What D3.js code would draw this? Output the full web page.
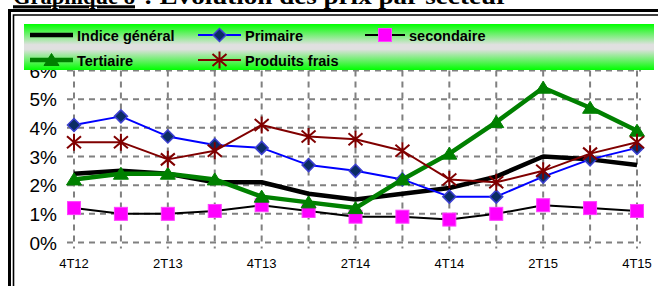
<!DOCTYPE html>
<html lang="fr">
<head>
<meta charset="utf-8">
<title>Evolution des prix par secteur</title>
<script src="https://cdn.jsdelivr.net/npm/d3@7"></script>
<style>
  body { margin: 0; background: #fff; }
  text { font-family: "Liberation Sans", Arial, sans-serif; }
</style>
</head>
<body>
<script>
var width = 658, height = 286;

// data
var quarters = ["4T12","1T13","2T13","3T13","4T13","1T14","2T14","3T14","4T14","1T15","2T15","3T15","4T15"];
var tickQuarters = ["4T12","2T13","4T13","2T14","4T14","2T15","4T15"];
var yTicks = [0, 1, 2, 3, 4, 5, 6];
var indiceGeneral = [2.4, 2.5, 2.4, 2.1, 2.1, 1.7, 1.5, 1.7, 1.9, 2.3, 3.0, 2.9, 2.7];
var primaire      = [4.1, 4.4, 3.7, 3.4, 3.3, 2.7, 2.5, 2.2, 1.6, 1.6, 2.3, 2.9, 3.3];
var secondaire    = [1.2, 1.0, 1.0, 1.1, 1.3, 1.1, 0.9, 0.9, 0.8, 1.0, 1.3, 1.2, 1.1];
var tertiaire     = [2.2, 2.4, 2.4, 2.2, 1.6, 1.4, 1.2, 2.2, 3.1, 4.2, 5.4, 4.7, 3.9];
var produitsFrais = [3.5, 3.5, 2.9, 3.2, 4.1, 3.7, 3.6, 3.2, 2.2, 2.1, 2.5, 3.1, 3.5];

var series = [
  {name: "Indice général", values: indiceGeneral, color: "#000", width: 4.5, marker: null},
  {name: "Primaire", values: primaire, color: "#0000ff", width: 2, marker: "diamond"},
  {name: "secondaire", values: secondaire, color: "#000", width: 2, marker: "square"},
  {name: "Tertiaire", values: tertiaire, color: "#008000", width: 4.5, marker: "triangle"},
  {name: "Produits frais", values: produitsFrais, color: "#800000", width: 2, marker: "star"}
];

var svg = d3.select("body").append("svg")
    .attr("width", width)
    .attr("height", height);

var x = d3.scalePoint().domain(quarters).range([74, 637]);
var y = d3.scaleLinear().domain([0, 6]).range([242.5, 70.5]);

// title (cut at top)
var title = svg.append("text")
    .attr("y", 4)
    .style("font-family", "'Liberation Serif', 'Times New Roman', serif")
    .style("font-weight", "bold")
    .style("font-size", "24px");
title.append("tspan").attr("x", 13).attr("text-decoration", "underline")
    .attr("textLength", 122).attr("lengthAdjust", "spacingAndGlyphs")
    .text("Graphique 8");
title.append("tspan").attr("x", 137)
    .attr("textLength", 371).attr("lengthAdjust", "spacingAndGlyphs")
    .text(" : Evolution des prix par secteur");
svg.append("line").attr("x1", 13).attr("x2", 135).attr("y1", 6).attr("y2", 6)
    .attr("stroke", "#000").attr("stroke-width", 1.5);

// double frame
svg.append("path").attr("d", "M9.5,290 V10.5 H670")
    .attr("fill", "none").attr("stroke", "#000").attr("stroke-width", 3);
svg.append("path").attr("d", "M13.5,290 V15 H670")
    .attr("fill", "none").attr("stroke", "#000").attr("stroke-width", 1.6);

// gridlines
var grid = svg.append("g").attr("stroke", "#808080").attr("stroke-width", 2)
    .attr("stroke-dasharray", "6,5").attr("fill", "none");
grid.selectAll(".h").data(yTicks).enter().append("line")
    .attr("x1", 67).attr("x2", 641)
    .attr("y1", function(d){ return y(d); })
    .attr("y2", function(d){ return y(d); });
grid.selectAll(".v").data(quarters).enter().append("line")
    .attr("x1", function(d){ return x(d); })
    .attr("x2", function(d){ return x(d); })
    .attr("y1", y(6)).attr("y2", y(0) + 6);

// y labels
svg.selectAll(".ylab").data(yTicks).enter().append("text")
    .attr("x", 57).attr("y", function(d){ return y(d) + 7; })
    .attr("text-anchor", "end")
    .style("font-size", "19px")
    .text(function(d){ return d + "%"; });

// x labels
svg.selectAll(".xlab").data(tickQuarters).enter().append("text")
    .attr("x", function(d){ return x(d); }).attr("y", 268)
    .attr("text-anchor", "middle")
    .style("font-size", "13px")
    .text(function(d){ return d; });

// markers
function drawMarker(g, type, cx, cy) {
  if (type === "diamond") {
    g.append("path").attr("d", "M0,-6.5L6.5,0L0,6.5L-6.5,0Z")
      .attr("transform", "translate(" + cx + "," + cy + ")")
      .attr("fill", "#0b2d63").attr("stroke", "#3b3fd0").attr("stroke-width", 1.5);
  } else if (type === "square") {
    g.append("rect").attr("x", cx - 6.5).attr("y", cy - 6.5)
      .attr("width", 13).attr("height", 13)
      .attr("fill", "#ff00ff").attr("stroke", "#ff40ff").attr("stroke-width", 1);
  } else if (type === "triangle") {
    g.append("path").attr("d", "M0,-6.5L7.5,5.5L-7.5,5.5Z")
      .attr("transform", "translate(" + cx + "," + cy + ")")
      .attr("fill", "#008000").attr("stroke", "#008000").attr("stroke-width", 1);
  } else if (type === "star") {
    g.append("path").attr("d", "M0,-8.5V8.5M-7,-6L7,6M-7,6L7,-6")
      .attr("transform", "translate(" + cx + "," + cy + ")")
      .attr("fill", "none").attr("stroke", "#800000").attr("stroke-width", 2);
  }
}

var line = d3.line()
    .x(function(d, i){ return x(quarters[i]); })
    .y(function(d){ return y(d); });

series.forEach(function(s) {
  var g = svg.append("g");
  g.append("path").attr("d", line(s.values))
    .attr("fill", "none").attr("stroke", s.color)
    .attr("stroke-width", s.width).attr("stroke-linejoin", "round");
  if (s.marker) {
    s.values.forEach(function(v, i) {
      drawMarker(g, s.marker, x(quarters[i]), y(v));
    });
  }
});

// legend
var defs = svg.append("defs");
var grad = defs.append("linearGradient").attr("id", "legGrad")
    .attr("x1", 0).attr("y1", 0).attr("x2", 0).attr("y2", 1);
grad.append("stop").attr("offset", "0%").attr("stop-color", "#00ff00");
grad.append("stop").attr("offset", "45%").attr("stop-color", "#e0e0e0");
grad.append("stop").attr("offset", "55%").attr("stop-color", "#e0e0e0");
grad.append("stop").attr("offset", "100%").attr("stop-color", "#00ff00");

svg.append("rect").attr("x", 24).attr("y", 24).attr("width", 630).attr("height", 46)
    .attr("fill", "url(#legGrad)");

var legendPos = [[30, 35], [198, 35], [365, 35], [30, 60], [198, 60]];
series.forEach(function(s, i) {
  var p = legendPos[i];
  var g = svg.append("g");
  var lw = s.name === "secondaire" ? 40 : 43;
  g.append("line").attr("x1", p[0]).attr("x2", p[0] + lw)
    .attr("y1", p[1]).attr("y2", p[1])
    .attr("stroke", s.color).attr("stroke-width", s.width);
  if (s.marker) drawMarker(g, s.marker, p[0] + lw / 2, p[1]);
  g.append("text").attr("x", p[0] + lw + 4).attr("y", p[1] + 5.5)
    .style("font-size", "14.5px").style("font-weight", "bold")
    .text(s.name);
});
</script>
</body>
</html>
